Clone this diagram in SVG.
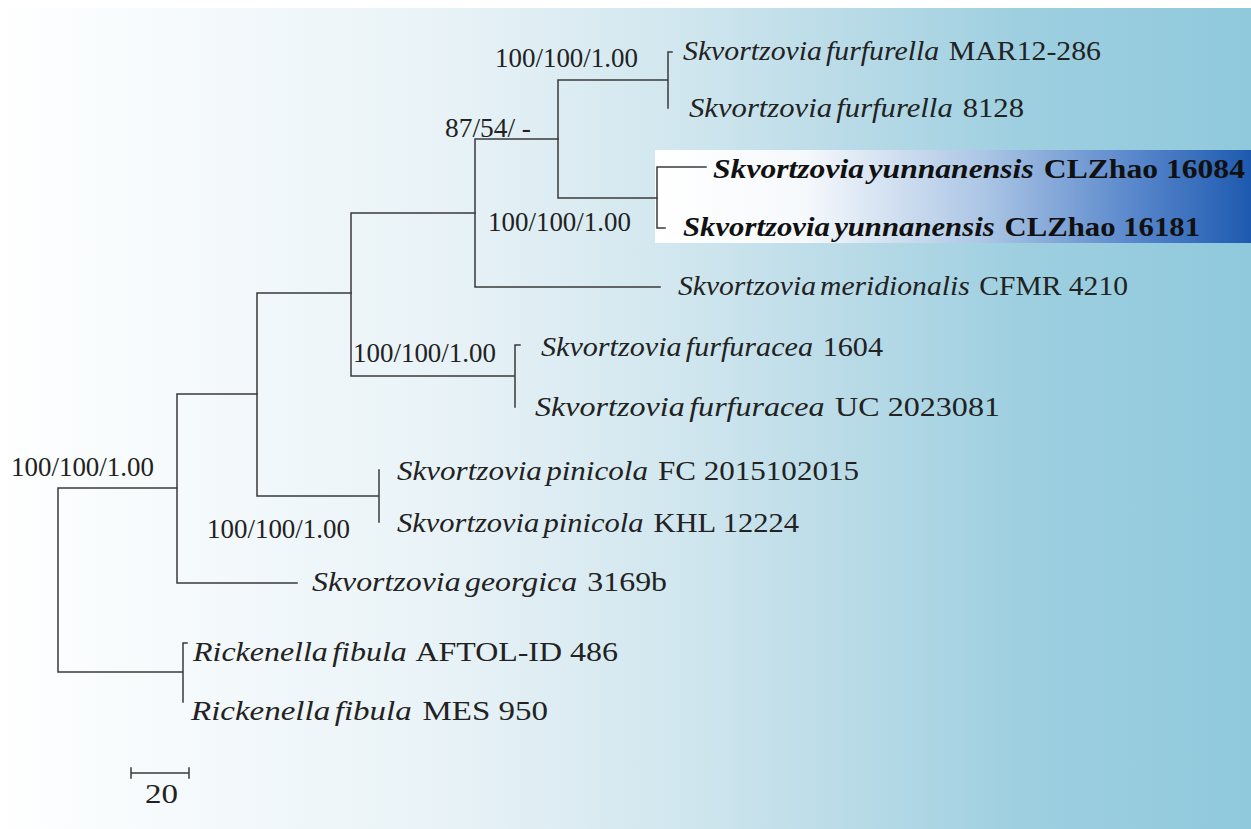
<svg xmlns="http://www.w3.org/2000/svg" width="1251" height="829" viewBox="0 0 1251 829">
<defs>
<linearGradient id="bg" x1="0" y1="0" x2="1" y2="0">
<stop offset="0" stop-color="#ffffff"/>
<stop offset="0.05" stop-color="#fbfdfe"/>
<stop offset="0.35" stop-color="#e9f3f7"/>
<stop offset="0.55" stop-color="#d0e6ee"/>
<stop offset="0.7" stop-color="#b5d9e6"/>
<stop offset="0.82" stop-color="#9dcfe0"/>
<stop offset="1" stop-color="#90c9dc"/>
</linearGradient>
<linearGradient id="hl" x1="0" y1="0" x2="1" y2="0">
<stop offset="0" stop-color="#ffffff"/>
<stop offset="0.25" stop-color="#f6f9fc"/>
<stop offset="0.55" stop-color="#acc6e5"/>
<stop offset="0.8" stop-color="#5a88cc"/>
<stop offset="1" stop-color="#1d5aaf"/>
</linearGradient>
<style>
text{font-family:"Liberation Serif","Times New Roman",serif;font-size:27px;fill:#222222}
.i{font-style:italic}
.b{font-weight:bold;font-size:28px;fill:#111111}
.br{stroke:#3a3a3a;stroke-width:1.5;fill:none;stroke-linecap:square}
</style>
</defs>
<rect x="0" y="0" width="1251" height="829" fill="#ffffff"/>
<rect x="0" y="8" width="1251" height="821" fill="url(#bg)"/>
<rect id="highlight" x="655" y="150" width="596" height="93" fill="url(#hl)"/>

<g id="connectors" class="br">
<path d="M58,488V672M58,488H177M58,672H183M183,643V702M183,643H187"/>
<path d="M177,394V583M177,583H297M177,394H257"/>
<path d="M257,293V496M257,496H379M379,470V522M257,293H351"/>
<path d="M351,213V376M351,376H515M515,345V407M515,345H520M351,213H475"/>
<path d="M475,139V287M475,287H660M475,139H558"/>
<path d="M558,80V198M558,80H668M668,52V108M668,52H672M558,198H657"/>
<path d="M657,167V228M657,167H706M657,228H665"/>
</g>

<g id="supports">
<g id="s1"><text x="495" y="67" textLength="143" lengthAdjust="spacingAndGlyphs">100/100/1.00</text></g>
<g id="s2"><text x="445" y="137" textLength="86" lengthAdjust="spacingAndGlyphs">87/54/ -</text></g>
<g id="s3"><text x="488" y="231" textLength="143" lengthAdjust="spacingAndGlyphs">100/100/1.00</text></g>
<g id="s4"><text x="353" y="362" textLength="143" lengthAdjust="spacingAndGlyphs">100/100/1.00</text></g>
<g id="s5"><text x="11" y="476" textLength="143" lengthAdjust="spacingAndGlyphs">100/100/1.00</text></g>
<g id="s6"><text x="207" y="538" textLength="143" lengthAdjust="spacingAndGlyphs">100/100/1.00</text></g>
</g>

<g id="taxa">
<g id="t1"><text x="683" y="60" textLength="418" lengthAdjust="spacingAndGlyphs"><tspan class="i">Skvortzovia</tspan><tspan class="i" dx="-3"> furfurella</tspan><tspan dx="2"> MAR12-286</tspan></text></g>
<g id="t2"><text x="689" y="117" textLength="335" lengthAdjust="spacingAndGlyphs"><tspan class="i">Skvortzovia</tspan><tspan class="i" dx="-3"> furfurella</tspan><tspan dx="2"> 8128</tspan></text></g>
<g id="t3"><text class="b" x="713" y="178" textLength="532" lengthAdjust="spacingAndGlyphs"><tspan class="i">Skvortzovia</tspan><tspan class="i" dx="-3"> yunnanensis</tspan><tspan dx="2"> CLZhao 16084</tspan></text></g>
<g id="t4"><text class="b" x="683" y="236" textLength="517" lengthAdjust="spacingAndGlyphs"><tspan class="i">Skvortzovia</tspan><tspan class="i" dx="-3"> yunnanensis</tspan><tspan dx="2"> CLZhao 16181</tspan></text></g>
<g id="t5"><text x="678" y="295" textLength="450" lengthAdjust="spacingAndGlyphs"><tspan class="i">Skvortzovia</tspan><tspan class="i" dx="-3"> meridionalis</tspan><tspan dx="2"> CFMR 4210</tspan></text></g>
<g id="t6"><text x="541" y="356" textLength="342" lengthAdjust="spacingAndGlyphs"><tspan class="i">Skvortzovia</tspan><tspan class="i" dx="-3"> furfuracea</tspan><tspan dx="2"> 1604</tspan></text></g>
<g id="t7"><text x="535" y="416" textLength="465" lengthAdjust="spacingAndGlyphs"><tspan class="i">Skvortzovia</tspan><tspan class="i" dx="-3"> furfuracea</tspan><tspan dx="2"> UC 2023081</tspan></text></g>
<g id="t8"><text x="397" y="480" textLength="462" lengthAdjust="spacingAndGlyphs"><tspan class="i">Skvortzovia</tspan><tspan class="i" dx="-3"> pinicola</tspan><tspan dx="2"> FC 2015102015</tspan></text></g>
<g id="t9"><text x="397" y="532" textLength="402" lengthAdjust="spacingAndGlyphs"><tspan class="i">Skvortzovia</tspan><tspan class="i" dx="-3"> pinicola</tspan><tspan dx="2"> KHL 12224</tspan></text></g>
<g id="t10"><text x="312" y="591" textLength="355" lengthAdjust="spacingAndGlyphs"><tspan class="i">Skvortzovia</tspan><tspan class="i" dx="-3"> georgica</tspan><tspan dx="2"> 3169b</tspan></text></g>
<g id="t11"><text x="193" y="661" textLength="425" lengthAdjust="spacingAndGlyphs"><tspan class="i">Rickenella</tspan><tspan class="i" dx="-3"> fibula</tspan><tspan dx="2"> AFTOL-ID 486</tspan></text></g>
<g id="t12"><text x="191" y="720" textLength="357" lengthAdjust="spacingAndGlyphs"><tspan class="i">Rickenella</tspan><tspan class="i" dx="-3"> fibula</tspan><tspan dx="2"> MES 950</tspan></text></g>
</g>

<g id="scalebar">
<path class="br" d="M131,773H189M131,768V778M189,768V778"/>
<text x="145" y="803" textLength="33" lengthAdjust="spacingAndGlyphs">20</text>
</g>
</svg>
